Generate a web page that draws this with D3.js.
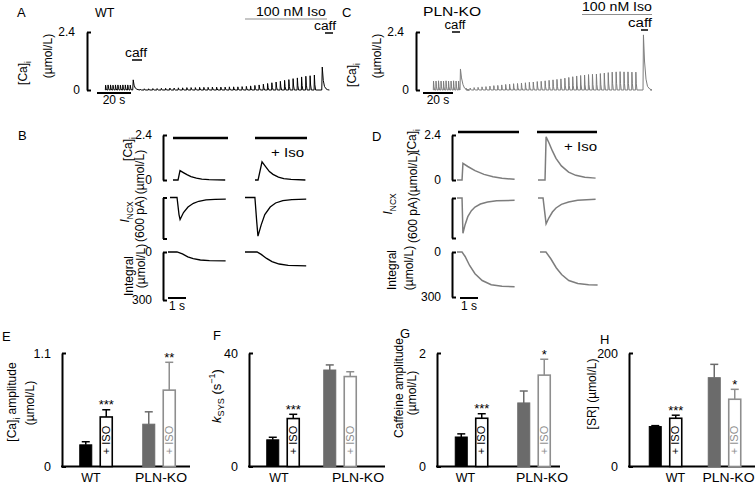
<!DOCTYPE html>
<html><head><meta charset="utf-8">
<script src="https://cdn.jsdelivr.net/npm/d3@7"></script>
<style>
body{margin:0;background:#fff}
svg text{font-family:"Liberation Sans",Arial,Helvetica,sans-serif}
</style></head><body>
<svg id="c" width="755" height="484" xmlns="http://www.w3.org/2000/svg"></svg>
<script>
// ================= DATA =================
// Panels E-H : bar charts
const groups = ["WT", "PLN-KO"];
const conditions = ["control", "iso"];
const isoLabel = "+ ISO";
const caAmpMean = [0.21, 0.48, 0.41, 0.74];
const caAmpSem  = [0.03, 0.07, 0.12, 0.27];
const caAmpSig  = ["", "***", "", "**"];
const ksysMean  = [9.4, 16.9, 34.0, 31.7];
const ksysSem   = [0.9, 1.5, 1.8, 1.7];
const ksysSig   = ["", "***", "", ""];
const caffMean  = [0.52, 0.85, 1.12, 1.61];
const caffSem   = [0.055, 0.08, 0.21, 0.28];
const caffSig   = ["", "***", "", "*"];
const srMean    = [70.4, 85, 156.5, 118.5];
const srSem     = [1.6, 5.4, 23.5, 17.5];
const srSig     = ["", "***", "", "*"];

// Panels A / C : continuous [Ca]i records (umol/L), beat amplitudes read per beat
const wtPreBeats  = [0.20,0.21,0.21,0.20,0.21,0.21,0.20,0.21,0.21,0.21,0.20];
const wtPostBeats = [0.04,0.05,0.05,0.06,0.06,0.07,0.07,0.08,0.08,0.09,0.09,0.10,
                     0.10,0.10,0.11,0.11,0.11,0.12,0.12,0.12,0.12,0.13,0.13,0.13,
                     0.14,0.15,0.17,0.19,0.21,0.24,0.27,0.30,0.33,
                     0.36,0.40,0.43,0.47,0.50,0.54,0.57,0.59,0.62];
const wtCaff1 = [[0,0],[0.3,0.42],[0.8,0.2],[1.5,0.08],[2.5,0.03],[4,0]];
const wtCaff2 = [[0,0],[0.3,0.95],[0.9,0.4],[1.6,0.15],[2.5,0.05],[3.5,0.01],[4.5,0]];
const koPreBeats  = [0.37,0.37,0.38,0.37,0.37,0.38,0.37,0.37,0.38,0.37,0.37];
const koPostBeats = [0.07,0.08,0.10,0.11,0.13,0.14,0.16,0.18,0.19,0.21,
                     0.23,0.24,0.26,0.27,0.29,0.30,0.32,0.33,0.35,0.36,
                     0.38,0.40,0.42,0.44,0.46,0.49,0.52,0.55,0.58,0.60,
                     0.62,0.64,0.65,0.66,0.68,0.70,0.72,0.74,0.75,0.76,0.75,0.75,0.74,0.74];
const koCaff1 = [[0,0],[0.3,0.87],[1,0.5],[2,0.22],[3,0.08],[4.5,0.02],[6,0]];
const koCaff2 = [[0,0],[0.3,2.28],[1,1.2],[2,0.45],[3,0.15],[4.5,0.04],[6,0]];
const beatShape = [[0,0],[0.15,1],[0.45,0.35],[0.9,0]];
// timing of records (s)
const wtTiming = {preStart:0, prePeriod:1.45, caff1:16.3, postStart:20.5, postPeriod:2.5, caff2:127.5, end:132};
const koTiming = {preStart:0, prePeriod:1.67, caff1:18, postStart:22, postPeriod:2.63, caff2:140, end:144.7};

// Panels B / D : single-beat records [t (s), value]
const bCaCtl   = [[0,0],[0.28,0],[0.39,0.5],[0.6,0.38],[0.8,0.27],[1.0,0.18],[1.3,0.1],[1.6,0.05],[2.0,0.02],[2.9,0]];
const bCaIso   = [[0,0],[0.17,0],[0.39,0.97],[0.6,0.7],[0.8,0.45],[1.0,0.3],[1.3,0.15],[1.6,0.07],[2.0,0.03],[2.8,0]];
const bNcxCtl  = [[0,0],[0.39,0],[0.5,-250],[0.56,-322],[0.75,-220],[1.0,-140],[1.3,-85],[1.6,-55],[2.0,-35],[2.5,-28],[3.1,-25]];
const bNcxIso  = [[0,0],[0.55,0],[0.65,-350],[0.72,-566],[0.9,-400],[1.1,-250],[1.4,-140],[1.7,-80],[2.1,-45],[2.6,-30],[3.4,-25]];
const bIntCtl  = [[0,0],[0.5,0],[0.8,12],[1.1,30],[1.4,42],[1.8,50],[2.3,54],[3.2,55]];
const bIntIso  = [[0,0],[0.67,0],[0.9,15],[1.2,40],[1.5,60],[1.9,75],[2.4,84],[3.4,87]];
const dCaCtl   = [[0,0],[0.28,0],[0.33,0.89],[0.6,0.72],[1.0,0.5],[1.5,0.3],[2.0,0.17],[2.5,0.09],[3.2,0.04]];
const dCaIso   = [[0,0],[0.39,0],[0.45,2.3],[0.6,2.0],[0.8,1.55],[1.0,1.15],[1.3,0.75],[1.7,0.42],[2.1,0.25],[2.6,0.15],[3.2,0.1]];
const dNcxCtl  = [[0,0],[0.28,0],[0.33,-530],[0.45,-400],[0.6,-280],[0.8,-190],[1.0,-135],[1.3,-90],[1.7,-60],[2.2,-40],[3.2,-35]];
const dNcxIso  = [[0,0],[0.28,0],[0.45,-387],[0.6,-300],[0.8,-210],[1.0,-150],[1.3,-95],[1.7,-60],[2.2,-35],[3.2,-20]];
const dIntCtl  = [[0,0],[0.28,0],[0.45,30],[0.7,90],[1.0,145],[1.4,190],[1.9,218],[2.5,228],[3.2,231]];
const dIntIso  = [[0,0],[0.33,0],[0.6,45],[0.9,105],[1.2,150],[1.6,190],[2.1,210],[2.7,218],[3.2,220]];

// ================= DRAWING =================
const svg = d3.select("#c");
const FONT = '"Liberation Sans", Arial, Helvetica, sans-serif';
const GRAY = "#7d7d7d", DGRAY = "#6b6b6b", LGRAY = "#8e8e8e";

function txt(x, y, s, o = {}) {
  const t = svg.append("text").attr("x", x).attr("y", y).text(s)
    .attr("font-size", o.size || 12).attr("text-anchor", o.anchor || "start")
    .attr("fill", o.fill || "#000");
  if (o.len) t.attr("textLength", o.len).attr("lengthAdjust", "spacingAndGlyphs");
  return t;
}
// rotated label; parts = [[text, kind]] kind: n, sub, sup, it
function vlabel(cx, cy, parts, size = 12, fill = "#000") {
  const t = svg.append("text")
    .attr("transform", `translate(${cx + 0.35 * size},${cy}) rotate(-90)`)
    .attr("text-anchor", "middle").attr("font-size", size).attr("fill", fill);
  let shift = 0;
  parts.forEach(([s, k]) => {
    const sp = t.append("tspan").text(s);
    let target = 0;
    if (k === "sub") { target = 0.3 * size; sp.attr("font-size", size * 0.7); }
    if (k === "sup") { target = -0.4 * size; sp.attr("font-size", size * 0.7); }
    if (k === "it") sp.attr("font-style", "italic");
    sp.attr("dy", target - shift); shift = target;
  });
  return t;
}
function hline(x1, x2, y, w = 1, c = "#000") {
  svg.append("line").attr("x1", x1).attr("x2", x2).attr("y1", y).attr("y2", y)
    .attr("stroke", c).attr("stroke-width", w);
}
function bracket(x, scale, lo, hi, labels, pad = 11) {
  const ax = d3.axisLeft(scale).tickValues([lo, hi]).tickSizeInner(-4).tickSizeOuter(0)
    .tickPadding(pad).tickFormat((d, i) => labels ? labels[i] : "");
  const g = svg.append("g").attr("transform", `translate(${x},0)`).call(ax)
    .attr("font-family", FONT).attr("font-size", 12);
  g.select(".domain").attr("stroke-width", 2);
  g.selectAll(".tick line").attr("stroke-width", 2);
  g.selectAll(".tick text").attr("fill", "#000");
  return g;
}

// ---------- A and C : long records ----------
function buildRecord(pre, post, caff1, caff2, tm) {
  const pts = [[tm.preStart, 0]];
  pre.forEach((a, i) => beatShape.forEach(s => pts.push([tm.preStart + i * tm.prePeriod + s[0] + 0.2, a * s[1]])));
  caff1.forEach(p => pts.push([tm.caff1 + p[0], p[1]]));
  post.forEach((a, i) => beatShape.forEach(s => pts.push([tm.postStart + i * tm.postPeriod + s[0], a * s[1]])));
  caff2.forEach(p => pts.push([tm.caff2 + p[0], p[1]]));
  pts.push([tm.end, 0]);
  return pts;
}
function recordPanel(o) {
  const x = d3.scaleLinear().domain([0, 20]).range([o.x0, o.x0 + o.px20]);
  const y = d3.scaleLinear().domain([0, 2.4]).range([o.yb, o.yt]);
  const g = bracket(o.bx, y, 0, 2.4, ["0", "2.4"], 12);
  g.selectAll(".tick text").filter(d => d === 0).attr("x", -7);
  const pts = buildRecord(o.pre, o.post, o.c1, o.c2, o.tm);
  svg.append("path").attr("d", d3.line().x(d => x(d[0])).y(d => y(d[1]))(pts))
    .attr("fill", "none").attr("stroke", o.color).attr("stroke-width", 1);
  // 20 s scale bar
  hline(o.sb0, o.sb0 + o.px20, o.yb + 3, 2);
  txt(o.sb0 + o.px20 / 2, o.yb + 14, "20 s", { anchor: "middle", size: 12 });
}
recordPanel({ x0: 105, px20: 34, bx: 87, yb: 90, yt: 32, pre: wtPreBeats, post: wtPostBeats,
  c1: wtCaff1, c2: wtCaff2, tm: wtTiming, color: "#000", sb0: 97 });
recordPanel({ x0: 433, px20: 30, bx: 416, yb: 90, yt: 32, pre: koPreBeats, post: koPostBeats,
  c1: koCaff1, c2: koCaff2, tm: koTiming, color: GRAY, sb0: 423 });

// A labels
txt(17, 17, "A", { size: 13 });
txt(95, 17, "WT", { size: 12.5 });
vlabel(23, 73, [["[Ca]", "n"], ["i", "sub"]]);
vlabel(48, 56, [["(\u00b5mol/L)", "n"]]);
txt(291, 16, "100 nM Iso", { anchor: "middle", len: 70 });
hline(245, 327, 19, 1.2, LGRAY);
txt(136, 57, "caff", { anchor: "middle", len: 22 });
hline(132, 142, 60, 1.5);
txt(325, 30, "caff", { anchor: "middle", len: 22 });
hline(325, 333, 33, 1.5);
// C labels
txt(342, 17, "C", { size: 13 });
txt(423, 16, "PLN-KO", { len: 58, size: 12.5 });
vlabel(352, 75, [["[Ca]", "n"], ["i", "sub"]]);
vlabel(377, 56, [["(\u00b5mol/L)", "n"]]);
txt(617, 11, "100 nM Iso", { anchor: "middle", len: 70 });
hline(582, 652, 14.5, 1.2, LGRAY);
txt(455, 29, "caff", { anchor: "middle", len: 21 });
hline(452, 460, 32, 1.5);
txt(640, 27, "caff", { anchor: "middle", len: 24 });
hline(641, 648, 30, 1.5);

// ---------- B and D : single beats ----------
function beatPanel(o) {
  const yCa = d3.scaleLinear().domain([0, 2.4]).range([o.caB, o.caT]);
  const yN = d3.scaleLinear().domain([-600, 0]).range([o.nB, o.nT]);
  const yI = d3.scaleLinear().domain([0, 300]).range([o.iT, o.iB]);
  bracket(o.bx, yCa, 0, 2.4, ["0", "2.4"]);
  bracket(o.bx, yN, -600, 0, null);
  bracket(o.bx, yI, 0, 300, ["0", "300"]);
  const draw = (data, x0, ys) => {
    const xs = d3.scaleLinear().domain([0, 1]).range([x0, x0 + 18]);
    svg.append("path").attr("d", d3.line().x(d => xs(d[0])).y(d => ys(d[1]))(data))
      .attr("fill", "none").attr("stroke", o.color).attr("stroke-width", o.sw);
  };
  draw(o.caC, o.xs.caC, yCa); draw(o.caI, o.xs.caI, yCa);
  draw(o.nC, o.xs.nC, yN); draw(o.nI, o.xs.nI, yN);
  draw(o.iC, o.xs.iC, yI); draw(o.iI, o.xs.iI, yI);
  o.bars.forEach(b => hline(b[0], b[1], o.barY, 2.5));
  txt(o.isoX, o.isoY, "+ Iso", { anchor: "end", size: 13, len: 33 });
  hline(o.sb0, o.sb0 + 18, o.sbY, 2);
  txt(o.sb0 + 9, o.sbY + 12, "1 s", { anchor: "middle" });
}
beatPanel({ bx: 163, caB: 180, caT: 135, nB: 238.5, nT: 197.5, iT: 252, iB: 300,
  caC: bCaCtl, caI: bCaIso, nC: bNcxCtl, nI: bNcxIso, iC: bIntCtl, iI: bIntIso,
  xs: { caC: 173, caI: 255, nC: 170, nI: 245, iC: 168, iI: 245 },
  color: "#000", sw: 1.3, bars: [[173, 228], [255, 307]], barY: 138,
  isoX: 304, isoY: 157, sb0: 168, sbY: 298 });
beatPanel({ bx: 452, caB: 180, caT: 135, nB: 238, nT: 198, iT: 252, iB: 297,
  caC: dCaCtl, caI: dCaIso, nC: dNcxCtl, nI: dNcxIso, iC: dIntCtl, iI: dIntIso,
  xs: { caC: 457, caI: 538, nC: 457, nI: 538, iC: 457, iI: 540 },
  color: GRAY, sw: 1.5, bars: [[458, 519], [537, 597]], barY: 132,
  isoX: 597, isoY: 151, sb0: 460, sbY: 298 });
txt(18, 140, "B", { size: 13 });
txt(372, 141, "D", { size: 13 });
// B labels
vlabel(128, 149, [["[Ca]", "n"], ["i", "sub"]]);
vlabel(140, 172, [["(\u00b5mol/L)", "n"]]);
vlabel(125, 212, [["I", "it"], ["NCX", "sub"]]);
vlabel(140, 219, [["(600 pA)", "n"]]);
vlabel(129, 276, [["Integral", "n"]]);
vlabel(141, 266, [["(\u00b5mol/L)", "n"]]);
// D labels
vlabel(412, 141, [["[Ca]", "n"], ["i", "sub"]]);
vlabel(413, 174, [["(\u00b5mol/L)", "n"]]);
vlabel(388, 204, [["I", "it"], ["NCX", "sub"]]);
vlabel(413, 220, [["(600 pA)", "n"]]);
vlabel(392, 270, [["Integral", "n"]]);
vlabel(409, 268, [["(\u00b5mol/L)", "n"]]);

// ---------- E-H : bar charts ----------
const BAR_BOTTOM = 466.5, BAR_TOP = 353;
function barPanel(o, means, sems, sigs) {
  const y = d3.scaleLinear().domain([0, o.max]).range([BAR_BOTTOM, BAR_TOP]);
  const gx = d3.scalePoint().domain(groups).range([o.g1, o.g2]);
  const bx = d3.scaleBand().domain(conditions).range([-17, 17]).paddingInner(0.34);
  const g = svg.append("g").attr("transform", `translate(${o.ax},0)`)
    .call(d3.axisLeft(y).tickValues([0, o.max]).tickSizeInner(-4).tickSizeOuter(0)
      .tickPadding(11).tickFormat(d => d === 0 ? "0" : String(o.max)))
    .attr("font-family", FONT).attr("font-size", 12.5);
  g.select(".domain").attr("stroke-width", 2);
  g.selectAll(".tick line").attr("stroke-width", 2);
  g.selectAll(".tick text").attr("fill", "#000");
  hline(o.ax - 1, o.axEnd, y(0), 2);
  const rows = [];
  groups.forEach((gr, gi) => conditions.forEach((c, ci) => {
    const i = gi * 2 + ci;
    rows.push({ gr, c, gi, ci, m: means[i], s: sems[i], sig: sigs[i] });
  }));
  const styles = [
    { fill: "#000", stroke: "#000", err: "#000" },
    { fill: "#fff", stroke: "#000", err: "#000" },
    { fill: DGRAY, stroke: DGRAY, err: DGRAY },
    { fill: "#fff", stroke: LGRAY, err: LGRAY }];
  rows.forEach(r => {
    const st = styles[r.gi * 2 + r.ci];
    const x0 = gx(r.gr) + bx(r.c), w = bx.bandwidth(), cx = x0 + w / 2;
    const top = y(r.m + r.s);
    svg.append("line").attr("x1", cx).attr("x2", cx).attr("y1", y(r.m)).attr("y2", top)
      .attr("stroke", st.err).attr("stroke-width", 1.5);
    hline(cx - 4, cx + 4, top, 1.5, st.err);
    svg.append("rect").attr("x", x0 + 0.75).attr("y", y(r.m)).attr("width", w - 1.5)
      .attr("height", BAR_BOTTOM - y(r.m)).attr("fill", st.fill).attr("stroke", st.stroke)
      .attr("stroke-width", r.ci === 1 ? 1.6 : 1);
    if (r.ci === 1) vlabel(cx - 0.5, 440, [[isoLabel, "n"]], 11, st.stroke);
    if (r.sig) txt(cx, top - 0.5, r.sig, { anchor: "middle", size: 13 });
  });
  txt(gx("WT") + o.l1, 482, "WT", { anchor: "middle", size: 12.5 });
  txt(gx("PLN-KO") + o.l2, 482, "PLN-KO", { anchor: "middle", size: 12.5, len: 52 });
  txt(o.lx, o.ly, o.letter, { size: 13 });
}
barPanel({ ax: 62, axEnd: 190, max: 1.1, g1: 96, g2: 159, l1: -5, l2: 2, letter: "E", lx: 2, ly: 341 }, caAmpMean, caAmpSem, caAmpSig);
barPanel({ ax: 249, axEnd: 385, max: 40, g1: 283, g2: 340, l1: -4, l2: 18, letter: "F", lx: 213, ly: 340 }, ksysMean, ksysSem, ksysSig);
barPanel({ ax: 437, axEnd: 560, max: 2, g1: 471.5, g2: 534, l1: -6, l2: 8, letter: "G", lx: 400, ly: 338 }, caffMean, caffSem, caffSig);
barPanel({ ax: 629, axEnd: 755, max: 200, g1: 665.5, g2: 724.5, l1: 10, l2: 4, letter: "H", lx: 600, ly: 344 }, srMean, srSem, srSig);
// y titles
vlabel(12, 402, [["[Ca]", "n"], ["i", "sub"], [" amplitude", "n"]]);
vlabel(30, 403, [["(\u00b5mol/L)", "n"]]);
vlabel(216, 396, [["k", "it"], ["SYS", "sub"], [" (s", "n"], ["\u22121", "sup"], [")", "n"]], 13);
vlabel(399, 388, [["Caffeine amplitude", "n"]]);
vlabel(412, 393, [["(\u00b5mol/L)", "n"]]);
vlabel(592, 394, [["[SR] (\u00b5mol/L)", "n"]]);
</script></body></html>
